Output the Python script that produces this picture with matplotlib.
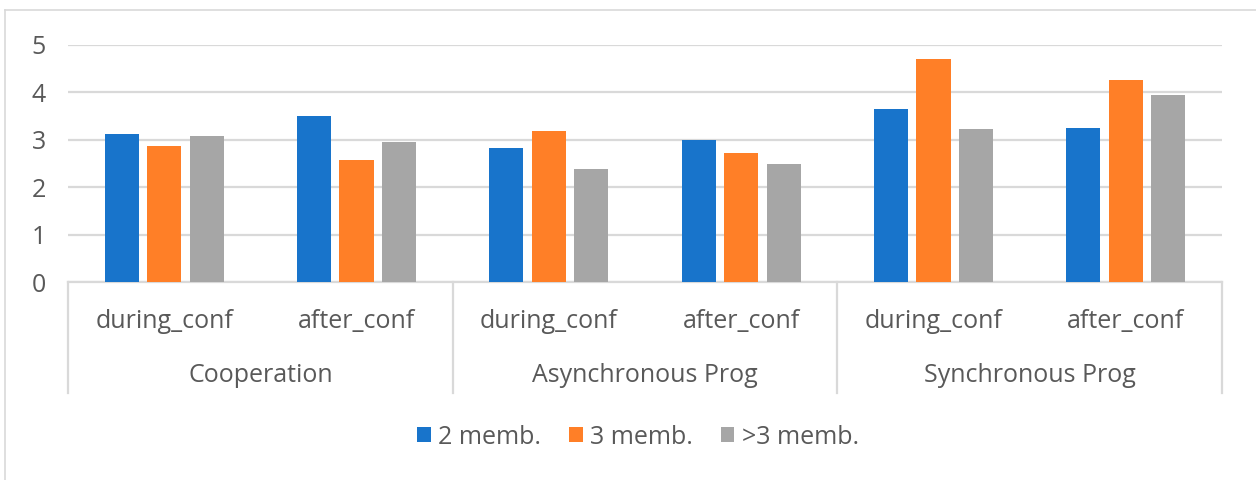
import numpy as np
import matplotlib.pyplot as plt
from matplotlib.lines import Line2D
from matplotlib.transforms import blended_transform_factory

plt.rcParams['font.family'] = ['Open Sans', 'DejaVu Sans']

groups = ['Cooperation', 'Asynchronous Prog', 'Synchronous Prog']
phases = ['during_conf', 'after_conf']
series = ['2 memb.', '3 memb.', '>3 memb.']
memb2 = [3.12, 3.50, 2.83, 2.99, 3.65, 3.24]
memb3 = [2.86, 2.57, 3.19, 2.73, 4.71, 4.26]
memb_more = [3.08, 2.96, 2.38, 2.48, 3.22, 3.94]
colors = ['#1874cb', '#ff7f27', '#a6a6a6']

txt = '#595959'
grid = '#d9d9d9'
fs = 18

fig = plt.figure(figsize=(12.56, 4.8), dpi=100)
ax = fig.add_axes([68 / 1256, 1 - 282 / 480, (1222 - 68) / 1256, (282 - 45) / 480])

x = np.arange(len(memb2))
w = 0.177
step = 0.221
for i, (vals, c, lab) in enumerate(zip([memb2, memb3, memb_more], colors, series)):
    ax.bar(x + (i - 1) * step, vals, w, color=c, label=lab, zorder=3)

ax.set_xlim(-0.5, len(x) - 0.5)
ax.set_ylim(0, 5)
ax.set_yticks(range(6))
ax.yaxis.grid(True, color=grid, linewidth=1.6, zorder=0)
ax.tick_params(axis='y', length=0, pad=16, labelsize=fs, labelcolor=txt)
ax.tick_params(axis='x', length=0)
ax.set_xticks([])
for s in ['top', 'right', 'left']:
    ax.spines[s].set_visible(False)
ax.spines['bottom'].set_color(grid)
ax.spines['bottom'].set_linewidth(1.6)

# two-level category axis
tr = blended_transform_factory(ax.transData, ax.transAxes)
for xs in np.arange(-0.5, len(x), 2):
    ax.add_line(Line2D([xs, xs], [0, -0.468], transform=tr, color=grid,
                       linewidth=1.6, clip_on=False))
for i in x:
    ax.text(i, -0.165, phases[i % 2], transform=tr, ha='center', va='center',
            fontsize=fs, color=txt)
for g, name in enumerate(groups):
    ax.text(2 * g + 0.5, -0.395, name, transform=tr, ha='center', va='center',
            fontsize=fs, color=txt)

leg = fig.legend(loc='center', bbox_to_anchor=(0.508, 1 - 437 / 480), ncol=3,
                 frameon=False, fontsize=fs, handlelength=0.55, handleheight=0.55,
                 handletextpad=0.3, columnspacing=1.1)
for t in leg.get_texts():
    t.set_color(txt)

# chart area border
fig.add_artist(Line2D([5 / 1256, 5 / 1256], [0, 1 - 10 / 480], color=grid, linewidth=1.2))
fig.add_artist(Line2D([5 / 1256, 1], [1 - 10 / 480, 1 - 10 / 480], color=grid, linewidth=1.2))

fig.savefig('out.png', dpi=100)
